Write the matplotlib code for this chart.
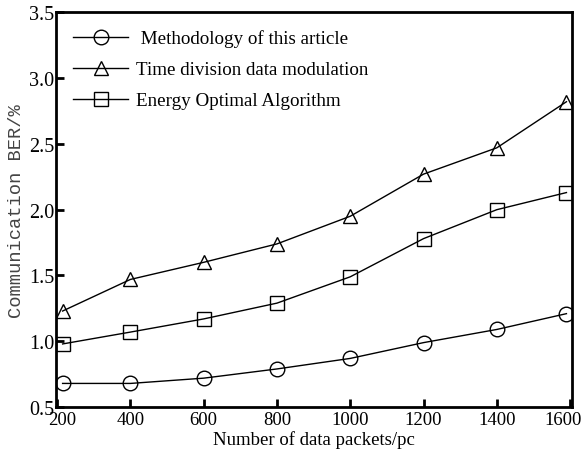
import matplotlib
matplotlib.use("Agg")
import matplotlib.pyplot as plt
import matplotlib.transforms as mtransforms

packets = [215, 400, 600, 800, 1000, 1200, 1400, 1590]
ours = [0.68, 0.68, 0.72, 0.79, 0.87, 0.99, 1.09, 1.21]
time_div = [1.23, 1.47, 1.60, 1.74, 1.95, 2.27, 2.47, 2.82]
energy = [0.98, 1.07, 1.17, 1.29, 1.49, 1.78, 2.00, 2.13]
labels = [" Methodology of this article", "Time division data modulation",
          "Energy Optimal Algorithm"]

plt.rcParams["font.family"] = ["Liberation Serif", "DejaVu Serif"]

fig = plt.figure(figsize=(5.81, 4.56), dpi=100)
ax = fig.add_axes([0.0964, 0.105, 0.888, 0.866])

style = dict(color="black", lw=1.0, markerfacecolor="none",
             markeredgecolor="black", markeredgewidth=1.0)
ax.plot(packets, ours, marker="o", ms=10.5, label=labels[0], **style)
ax.plot(packets, time_div, marker="^", ms=10.5, label=labels[1], **style)
ax.plot(packets, energy, marker="s", ms=9.5, label=labels[2], **style)

ax.set_xlim(197, 1605)
ax.set_ylim(0.5, 3.5)
ax.set_xticks([200, 400, 600, 800, 1000, 1200, 1400, 1600])
ax.set_yticks([0.5, 1.0, 1.5, 2.0, 2.5, 3.0, 3.5])
ax.set_yticklabels(["0.5", "1.0", "1.5", "2.0", "2.5", "3.0", "3.5"])
ax.tick_params(direction="in", length=6, width=2, pad=1)
ax.tick_params(axis="y", labelsize=14.5)
ax.tick_params(axis="x", labelsize=13.5, pad=3)
for s in ax.spines.values():
    s.set_linewidth(2)

# end labels sit a little inside the frame, as in the original
xlabels = ax.get_xticklabels()
for lab, dx in ((xlabels[0], 5), (xlabels[-1], -7)):
    lab.set_transform(lab.get_transform() +
                      mtransforms.ScaledTranslation(dx / 100, 0, fig.dpi_scale_trans))

ax.set_xlabel("Number of data packets/pc", fontsize=13.5, labelpad=1)
ax.set_ylabel("Communication BER/%", fontsize=13.5, family="Liberation Mono",
              color="#444444", labelpad=3)

ax.legend(loc="upper left", frameon=False, fontsize=13.7, handlelength=2.9,
          handletextpad=0.4, labelspacing=0.72, borderaxespad=0.5,
          bbox_to_anchor=(0.0, 1.0))

fig.savefig("out.png", dpi=100)
